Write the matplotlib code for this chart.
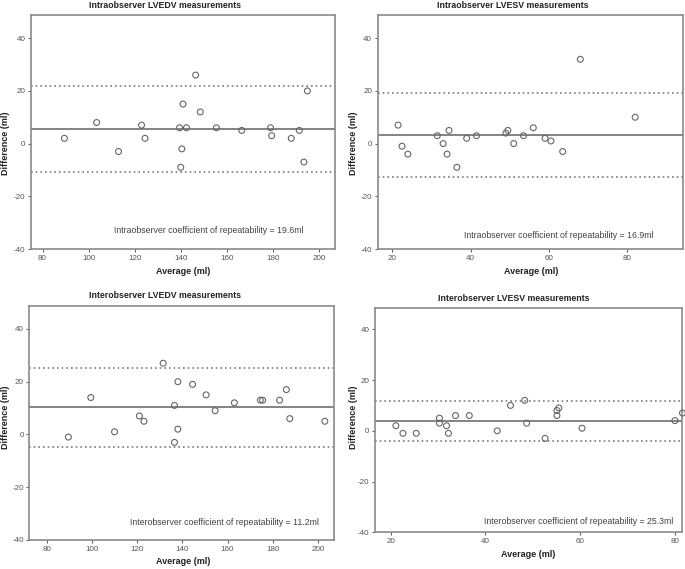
#!/usr/bin/env python3
'''
Bland-Altman plots for intra and interobserver LV volume measurements
'''
import matplotlib
matplotlib.use('Agg')
import matplotlib.pyplot as plt

W, H = 685, 569

titles = ['Intraobserver LVEDV measurements', 'Intraobserver LVESV measurements',
          'Interobserver LVEDV measurements', 'Interobserver LVESV measurements']
notes = ['Intraobserver coefficient of repeatability = 19.6ml',
         'Intraobserver coefficient of repeatability = 16.9ml',
         'Interobserver coefficient of repeatability = 11.2ml',
         'Interobserver coefficient of repeatability = 25.3ml']

# intraobserver LVEDV
intra_edv_avg = [89.5, 103.5, 113, 123, 124.5, 139.5, 140.5, 140, 141, 142.5,
                 146.5, 148.5, 155.5, 166.5, 179, 179.5, 188, 191.5, 195, 193.5]
intra_edv_diff = [2, 8, -3, 7, 2, 6, -2, -9, 15, 6,
                  26, 12, 6, 5, 6, 3, 2, 5, 20, -7]

# intraobserver LVESV
intra_esv_avg = [21.5, 22.5, 24, 31.5, 33, 34, 34.5, 36.5, 39, 41.5,
                 49, 49.5, 51, 53.5, 56, 59, 60.5, 63.5, 68, 82]
intra_esv_diff = [7, -1, -4, 3, 0, -4, 5, -9, 2, 3,
                  4, 5, 0, 3, 6, 2, 1, -3, 32, 10]

# interobserver LVEDV
inter_edv_avg = [89.6, 99.5, 110, 121, 123, 131.5, 136.5, 136.5, 138, 138,
                 144.5, 150.5, 154.5, 163, 174.5, 175.5, 183, 186, 187.5, 203]
inter_edv_diff = [-1, 14, 1, 7, 5, 27, 11, -3, 20, 2,
                  19, 15, 9, 12, 13, 13, 13, 17, 6, 5]

# interobserver LVESV
inter_esv_avg = [21.1, 22.6, 25.4, 30.3, 30.3, 31.8, 32.2, 33.7, 36.6, 42.5,
                 45.3, 48.3, 48.7, 52.6, 55.1, 55.1, 55.5, 60.4, 80.0, 81.6]
inter_esv_diff = [2, -1, -1, 5, 3, 2, -1, 6, 6, 0,
                  10, 12, 3, -3, 6, 8, 9, 1, 4, 7]

# mean difference and limits of agreement
means = [5.6, 3.2, 10.4, 4.0]
uppers = [22.0, 19.1, 25.2, 11.9]
lowers = [-10.8, -12.7, -4.6, -4.0]

xticks = [[80, 100, 120, 140, 160, 180, 200], [20, 40, 60, 80],
          [80, 100, 120, 140, 160, 180, 200], [20, 40, 60, 80]]
yticks = [-40, -20, 0, 20, 40]


def px_box(x0, y0, x1, y1):
    '''
    convert a pixel box (top-left origin) to figure fractions
    '''
    return [x0 / W, 1 - y1 / H, (x1 - x0) / W, (y1 - y0) / H]


def main():
    plt.rcParams['font.family'] = ['Liberation Sans', 'DejaVu Sans']
    plt.rcParams['axes.unicode_minus'] = False
    fig = plt.figure(figsize=(W / 100, H / 100), dpi=100)
    fig.patch.set_facecolor('white')

    data = [(intra_edv_avg, intra_edv_diff), (intra_esv_avg, intra_esv_diff),
            (inter_edv_avg, inter_edv_diff), (inter_esv_avg, inter_esv_diff)]
    boxes = [(31, 15, 335, 249), (377.7, 15, 683, 249),
             (29.3, 305.7, 334.3, 540), (375, 307.7, 682, 532.3)]
    xlims = [(75, 207), (16.3, 94.2), (72.3, 207.2), (16.7, 81.5)]
    ytops = [48.8, 48.8, 48.8, 48.5]
    title_pos = [(165, 5), (512.7, 5), (165, 295.7), (513.3, 298.3)]
    xlab_pos = [(182.7, 272), (530.7, 272), (182.7, 562), (528.3, 554.3)]
    ylab_pos = [(6, 143), (353.3, 143), (6, 417), (353.3, 417)]
    note_pos = [(0.584, 0.078), (0.592, 0.057), (0.64, 0.073), (0.664, 0.05)]

    for i in range(4):
        ax = fig.add_axes(px_box(*boxes[i]))
        avg, diff = data[i]
        ax.scatter(avg, diff, s=18, facecolors='none', edgecolors='#666666',
                   linewidths=0.8, zorder=3, clip_on=False)
        ax.axhline(means[i], color='#7a7a7a', lw=1.3)
        ax.axhline(uppers[i], color='#7a7a7a', lw=1.2, linestyle=(0, (1, 1.8)))
        ax.axhline(lowers[i], color='#7a7a7a', lw=1.2, linestyle=(0, (1, 1.8)))

        ax.set_xlim(*xlims[i])
        ax.set_ylim(-40, ytops[i])
        ax.set_xticks(xticks[i])
        ax.set_yticks(yticks)
        ax.tick_params(labelsize=5.8, length=2.5, width=0.7, colors='#555555', pad=1.5)
        for side in ['top', 'right', 'left', 'bottom']:
            ax.spines[side].set_color('#8a8a8a')
            ax.spines[side].set_linewidth(1.2)

        ax.text(note_pos[i][0], note_pos[i][1], notes[i], transform=ax.transAxes,
                ha='center', va='center', fontsize=6.3, color='#444444')

        fig.text(title_pos[i][0] / W, 1 - title_pos[i][1] / H, titles[i],
                 ha='center', va='center', fontsize=6.3, fontweight='bold', color='#222222')
        fig.text(xlab_pos[i][0] / W, 1 - xlab_pos[i][1] / H, 'Average (ml)',
                 ha='center', va='center', fontsize=6.5, fontweight='bold', color='#222222')
        fig.text(ylab_pos[i][0] / W, 1 - ylab_pos[i][1] / H, 'Difference (ml)',
                 ha='center', va='center', fontsize=6.5, fontweight='bold',
                 color='#222222', rotation=90)

    fig.savefig('out.png', dpi=100)


if __name__ == '__main__':
    main()
